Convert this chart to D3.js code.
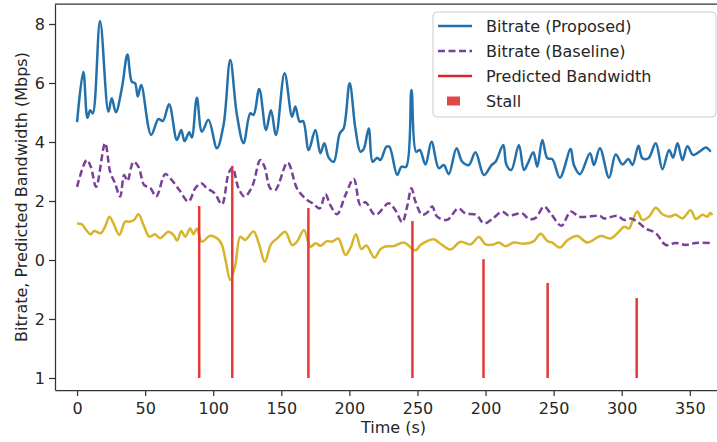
<!DOCTYPE html>
<html>
  <head>
    <meta charset="utf-8">
    <title>Bitrate and Predicted Bandwidth</title>
    <style>
      body {
        margin: 0;
        background: #fff;
      }
      text {
        font-family: "DejaVu Sans", sans-serif;
        fill: #262626;
      }
      .axis path, .axis line {
        stroke: #333;
        stroke-width: 1.25;
      }
      .axis text {
        font-size: 16px;
      }
      .legend text {
        font-size: 16px;
      }
    </style>
  </head>
  <body>
    <div id="chart"></div>
    <script src="https://cdn.jsdelivr.net/npm/d3@7"></script>
    <script>
      // values (time in axis units, rates in Mbps)
      var proposedTime = [0, 4.6, 7.6, 9.6, 11.5, 16.9, 23.0, 25.5, 28.5, 32.9,
        37.0, 40.2, 42.6, 44.6, 47.1, 54.4, 59.8, 63.0, 67.6, 73.3,
        76.5, 78.9, 82.4, 84.3, 88.0, 91.7, 96.5, 102.7, 107.6, 112.5,
        117.4, 122.3, 127.2, 129.6, 133.8, 138.8, 142.4, 146.1, 152.4, 157.9,
        160.3, 163.5, 166.0, 170.1, 175.0, 178.7, 181.6, 184.8, 188.5, 192.9,
        195.8, 200.2, 204.4, 208.1, 210.5, 214.2, 217.1, 220.4, 222.8, 227.2,
        229.4, 235.1, 238.2, 241.7, 245.6, 249.0, 251.7, 255.9, 260.3, 265.7,
        269.3, 273.0, 278.7, 282.9, 287.7, 292.6, 298.8, 304.4, 307.4, 313.0,
        315.4, 318.9, 324.5, 328.2, 331.1, 335.1, 338.0, 341.7, 345.4, 349.0,
        354.6, 362.5, 364.9, 369.3, 376.7, 379.6, 384.0, 390.7, 395.6, 400.5,
        404.9, 407.9, 412.3, 415.2, 419.6, 425.0, 429.9, 434.8, 437.7, 441.0,
        444.6, 448.3, 452.4, 458.8, 461.8, 465.4];
      var proposedRate = [4.67, 6.38, 4.82, 5.08, 4.97, 8.10, 5.03, 5.48, 5.01, 5.82,
        6.97, 6.04, 5.99, 5.54, 5.93, 4.24, 4.78, 4.71, 5.28, 4.07,
        4.41, 4.03, 4.33, 4.15, 5.50, 4.35, 4.75, 3.79, 4.58, 6.78,
        4.92, 3.96, 4.97, 4.92, 5.80, 4.41, 5.08, 4.24, 6.33, 4.86,
        5.20, 4.69, 4.71, 3.73, 4.41, 3.62, 3.96, 3.47, 3.33, 4.29,
        4.46, 5.99, 4.46, 3.67, 3.76, 4.46, 3.33, 3.47, 3.39, 3.84,
        3.84, 2.88, 3.16, 3.16, 5.76, 3.67, 3.73, 3.24, 4.01, 3.11,
        3.22, 2.91, 3.79, 3.33, 3.22, 3.65, 2.88, 3.22, 3.33, 3.90,
        3.22, 3.05, 3.90, 3.05, 3.28, 3.65, 3.16, 4.07, 3.45, 3.42,
        2.79, 3.76, 3.22, 2.91, 3.62, 3.22, 3.79, 2.79, 3.58, 3.24,
        3.42, 3.22, 3.87, 3.45, 3.45, 3.96, 3.08, 3.73, 3.47, 3.96,
        3.39, 3.86, 3.56, 3.73, 3.81, 3.67];

      var baselineTime = [0, 7.1, 10.1, 14.0, 20.6, 24.3, 27.9, 31.6, 34.6, 37.0,
        41.4, 45.1, 49.3, 53.7, 58.1, 64.7, 68.4, 75.0, 81.8, 86.8,
        91.2, 95.4, 101.0, 106.4, 111.3, 114.2, 118.6, 123.0, 128.5, 134.6,
        137.7, 141.9, 145.6, 154.6, 161.5, 167.6, 173.8, 178.2, 182.4, 186.0,
        191.0, 197.1, 203.2, 208.1, 211.8, 219.1, 228.9, 233.8, 238.8, 242.4,
        245.6, 248.5, 253.5, 257.9, 260.8, 264.5, 271.8, 279.9, 285.3, 293.2,
        298.8, 304.9, 312.3, 317.1, 322.1, 327.0, 331.8, 336.8, 342.9, 347.8,
        355.7, 362.5, 368.6, 376.0, 384.0, 387.0, 396.8, 401.7, 406.6, 411.5,
        417.6, 425.0, 432.4, 439.7, 447.1, 454.4, 465.4];
      var baselineRate = [2.48, 3.39, 3.16, 2.48, 3.96, 2.99, 2.60, 2.15, 2.88, 2.68,
        3.33, 3.16, 2.54, 2.45, 2.15, 2.91, 2.77, 2.38, 1.98, 2.43,
        2.60, 2.43, 2.26, 1.89, 2.94, 3.13, 2.43, 2.15, 2.48, 3.39,
        3.16, 2.43, 2.37, 3.30, 2.43, 2.09, 1.89, 1.75, 2.23, 1.86,
        1.55, 2.20, 2.75, 1.86, 1.96, 1.53, 1.92, 1.69, 1.28, 1.81,
        2.43, 1.98, 1.53, 1.64, 1.81, 1.47, 1.36, 1.75, 1.58, 1.53,
        1.24, 1.39, 1.64, 1.50, 1.55, 1.58, 1.39, 1.43, 1.81, 1.58,
        1.16, 1.64, 1.47, 1.47, 1.50, 1.41, 1.50, 1.36, 1.41, 1.30,
        1.07, 0.91, 0.51, 0.58, 0.51, 0.58, 0.57];

      var predictedTime = [0, 3.5, 6.6, 10.1, 12.5, 17.4, 20.6, 23.8, 26.7, 31.1,
        35.3, 39.0, 41.9, 45.1, 48.8, 53.2, 57.4, 61.0, 67.1, 70.8,
        73.5, 76.6, 79.4, 83.1, 85.5, 88.0, 91.7, 97.8, 103.5, 106.4,
        109.3, 112.5, 116.2, 119.9, 123.5, 129.6, 133.6, 137.9, 142.5, 147.4,
        152.9, 157.9, 161.5, 166.7, 171.3, 175.4, 178.7, 183.6, 187.3, 191.9,
        197.1, 200.7, 204.8, 208.8, 212.5, 218.4, 222.8, 226.5, 232.6, 239.9,
        248.5, 252.2, 257.1, 262.0, 266.9, 274.3, 281.6, 289.0, 295.1, 300.0,
        306.1, 309.8, 314.7, 320.8, 328.2, 335.5, 340.4, 345.4, 349.0, 354.6,
        360.1, 367.4, 374.8, 384.6, 391.9, 398.0, 401.7, 405.4, 407.9, 411.5,
        415.2, 420.1, 425.0, 429.9, 434.8, 439.7, 444.6, 450.7, 454.4, 459.3,
        463.0, 465.0, 466.5];
      var predictedBw = [1.24, 1.21, 1.02, 0.87, 0.98, 0.91, 1.13, 1.47, 1.24, 0.85,
        1.30, 1.30, 1.36, 1.55, 1.19, 0.79, 0.87, 0.74, 0.96, 0.85,
        0.66, 0.98, 0.79, 1.07, 0.87, 1.07, 0.62, 0.82, 0.71, 0.51,
        -0.06, -0.68, -0.17, 0.79, 0.68, 0.97, 0.54, -0.06, 0.54, 0.75,
        0.96, 0.51, 0.62, 1.02, 0.45, 0.57, 0.48, 0.64, 0.62, 0.73,
        0.17, 0.40, 0.87, 0.37, 0.49, 0.08, 0.37, 0.46, 0.47, 0.59,
        0.33, 0.51, 0.64, 0.70, 0.55, 0.36, 0.62, 0.53, 0.78, 0.53,
        0.53, 0.59, 0.47, 0.59, 0.55, 0.64, 0.89, 0.64, 0.59, 0.42,
        0.67, 0.81, 0.59, 0.81, 0.73, 0.96, 1.13, 1.07, 1.32, 1.64,
        1.36, 1.47, 1.77, 1.55, 1.47, 1.53, 1.41, 1.69, 1.39, 1.53,
        1.47, 1.60, 1.52];

      var stallTime = [89.7, 114.0, 169.9, 246.3, 298.5, 345.6, 411.0];
      var stallTop = [1.83, 3.19, 1.76, 1.32, 0.03, -0.78, -1.29];
      var stallBase = -4;

      var xTickValues = [0, 50, 100, 150, 200, 250, 300, 350, 400, 450];
      var xTickLabels = ['0', '50', '100', '150', '200', '250', '200', '250', '300', '350'];
      var yTickValues = [8, 6, 4, 2, 0, -2, -4];
      var yTickLabels = ['8', '6', '4', '2', '0', '2', '1'];

      var legendLabels = ['Bitrate (Proposed)', 'Bitrate (Baseline)', 'Predicted Bandwidth', 'Stall'];

      (function(d3) {
        'use strict';

        var width = 717;
        var height = 442;
        var left = 55, right = 732, top = 4, bottom = 390;

        var colorProposed = '#2370ab';
        var colorBaseline = '#7a3f9a';
        var colorPredicted = '#d8b42b';
        var colorStall = '#e23a3a';

        var svg = d3.select('#chart')
          .append('svg')
          .attr('width', width)
          .attr('height', height);

        var x = d3.scaleLinear().domain([-16.2, 481]).range([left, right]);
        var y = d3.scaleLinear().domain([-4.407, 8.678]).range([bottom, top]);

        svg.append('clipPath')
          .attr('id', 'plot-clip')
          .append('rect')
          .attr('x', left)
          .attr('y', top)
          .attr('width', right - left)
          .attr('height', bottom - top);

        var plot = svg.append('g').attr('clip-path', 'url(#plot-clip)');

        var line = d3.line()
          .x(function(d) { return x(d[0]); })
          .y(function(d) { return y(d[1]); })
          .curve(d3.curveCatmullRom.alpha(0.5));

        function pairs(ts, vs) {
          return ts.map(function(t, i) { return [t, vs[i]]; });
        }

        plot.append('path')
          .datum(pairs(predictedTime, predictedBw))
          .attr('d', line)
          .attr('fill', 'none')
          .attr('stroke', colorPredicted)
          .attr('stroke-width', 2.5);

        plot.append('path')
          .datum(pairs(baselineTime, baselineRate))
          .attr('d', line)
          .attr('fill', 'none')
          .attr('stroke', colorBaseline)
          .attr('stroke-width', 2.5)
          .attr('stroke-dasharray', '7,3.5');

        plot.append('path')
          .datum(pairs(proposedTime, proposedRate))
          .attr('d', line)
          .attr('fill', 'none')
          .attr('stroke', colorProposed)
          .attr('stroke-width', 2.5);

        // stall markers
        plot.selectAll('.stall')
          .data(stallTime)
          .enter()
          .append('line')
          .attr('class', 'stall')
          .attr('x1', function(d) { return x(d); })
          .attr('x2', function(d) { return x(d); })
          .attr('y1', function(d, i) { return y(stallTop[i]); })
          .attr('y2', y(stallBase))
          .attr('stroke', colorStall)
          .attr('stroke-width', 2.5);

        // axes
        svg.append('g')
          .attr('class', 'axis')
          .attr('transform', 'translate(0,' + bottom + ')')
          .call(d3.axisBottom(x)
            .tickValues(xTickValues)
            .tickFormat(function(d, i) { return xTickLabels[i]; })
            .tickSize(6)
            .tickSizeOuter(0)
            .tickPadding(6.5));

        svg.append('g')
          .attr('class', 'axis')
          .attr('transform', 'translate(' + left + ',0)')
          .call(d3.axisLeft(y)
            .tickValues(yTickValues)
            .tickFormat(function(d, i) { return yTickLabels[i]; })
            .tickSize(6)
            .tickSizeOuter(0)
            .tickPadding(4));

        svg.selectAll('.axis text').style('fill', '#262626');

        svg.append('line')
          .attr('x1', left)
          .attr('x2', right)
          .attr('y1', top)
          .attr('y2', top)
          .attr('stroke', '#333')
          .attr('stroke-width', 1.25);

        svg.append('text')
          .attr('x', (left + right) / 2)
          .attr('y', 433)
          .attr('text-anchor', 'middle')
          .style('font-size', '16px')
          .text('Time (s)');

        svg.append('text')
          .attr('transform', 'translate(26.5,' + ((top + bottom) / 2) + ') rotate(-90)')
          .attr('text-anchor', 'middle')
          .style('font-size', '16px')
          .text('Bitrate, Predicted Bandwidth (Mbps)');

        // legend
        var legend = svg.append('g').attr('class', 'legend');

        legend.append('rect')
          .attr('x', 433)
          .attr('y', 12)
          .attr('width', 283)
          .attr('height', 105)
          .attr('rx', 4)
          .attr('fill', 'white')
          .attr('fill-opacity', 0.85)
          .attr('stroke', '#cccccc')
          .attr('stroke-width', 1);

        var rowY = [26, 51, 76, 101];
        var rowStyle = [
          { color: colorProposed, dash: null },
          { color: colorBaseline, dash: '7,3.5' },
          { color: '#d62728', dash: null },
          null
        ];

        legendLabels.forEach(function(label, i) {
          var s = rowStyle[i];
          if (s) {
            legend.append('line')
              .attr('x1', 438)
              .attr('x2', 472)
              .attr('y1', rowY[i])
              .attr('y2', rowY[i])
              .attr('stroke', s.color)
              .attr('stroke-width', 2.5)
              .attr('stroke-dasharray', s.dash);
          } else {
            legend.append('rect')
              .attr('x', 447)
              .attr('y', rowY[i] - 4.5)
              .attr('width', 13)
              .attr('height', 9)
              .attr('fill', '#e04848');
          }
          legend.append('text')
            .attr('x', 486)
            .attr('y', rowY[i])
            .attr('dy', '0.35em')
            .text(label);
        });

      })(window.d3);
    </script>
  </body>
</html>
